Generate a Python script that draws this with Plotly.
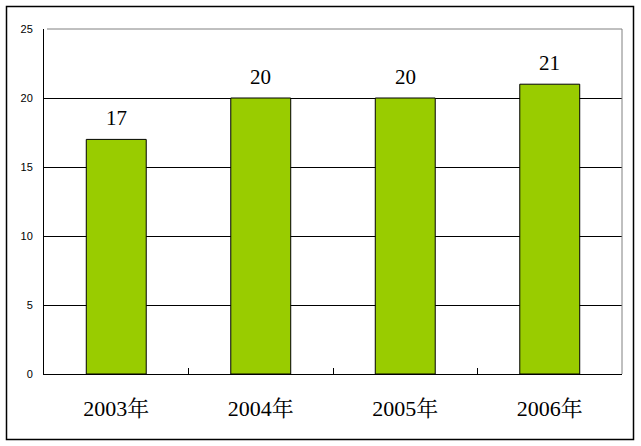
import plotly.graph_objects as go

categories = ["2003年", "2004年", "2005年", "2006年"]
values = [17, 20, 20, 21]
y_ticks = [0, 5, 10, 15, 20, 25]

serif = "Liberation Serif, Noto Serif CJK SC, Noto Sans CJK SC, serif"

fig = go.Figure()
fig.add_trace(go.Bar(
    x=categories, y=values,
    marker=dict(color="#99CC00", line=dict(color="black", width=1)),
    width=0.415,
))

for c, v in zip(categories, values):
    fig.add_annotation(x=c, y=v, text=str(v), showarrow=False,
                       yanchor="bottom", yshift=7,
                       font=dict(family=serif, size=21, color="black"))

W, H = 641, 446
ml, mr, mt, mb = 44, 19, 29, 72
pw, ph = W - ml - mr, H - mt - mb

def px(x):
    return (x - ml) / pw

def py(y):
    return (H - mb - y) / ph

# outer frame
fig.add_shape(type="rect", xref="paper", yref="paper",
              x0=px(6.5), x1=px(633.5), y0=py(439.5), y1=py(6.5),
              line=dict(color="black", width=1.5), layer="above")
# gray top/right border of plot area
fig.add_shape(type="line", xref="paper", yref="paper", x0=px(47), x1=1, y0=1, y1=1,
              line=dict(color="#808080", width=1), layer="above")
fig.add_shape(type="line", xref="paper", yref="paper", x0=1, x1=1, y0=0, y1=1,
              line=dict(color="#808080", width=1), layer="above")

fig.update_layout(
    width=W, height=H,
    margin=dict(l=ml, r=mr, t=mt, b=mb),
    plot_bgcolor="white", paper_bgcolor="white",
    showlegend=False,
    bargap=0.585,
    xaxis=dict(type="category", showline=True, linecolor="black", linewidth=1,
               ticks="inside", tickson="boundaries", ticklen=6, tickcolor="black",
               tickfont=dict(family=serif, size=22, color="black"),
               ticklabelstandoff=15, showgrid=False, zeroline=False),
    yaxis=dict(range=[0, 25], tickvals=y_ticks, showline=True, linecolor="black",
               linewidth=1, ticks="inside", ticklen=3, tickcolor="black",
               showgrid=True, gridcolor="black", gridwidth=1, zeroline=False,
               tickfont=dict(family="Liberation Sans, Arial, sans-serif", size=11, color="black"),
               ticklabelstandoff=8),
)

fig.write_html("out.html", config={"displayModeBar": False},
               post_script="document.body.style.margin='0';document.body.style.overflow='hidden';")
